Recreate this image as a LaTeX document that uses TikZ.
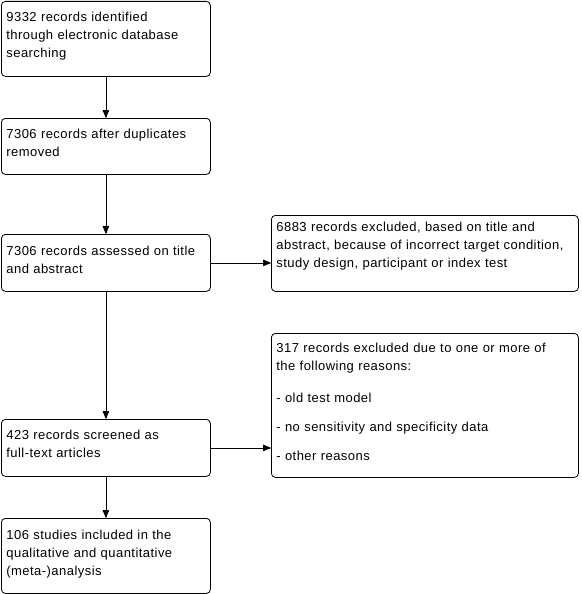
\documentclass[tikz,border=0pt]{standalone}
\usepackage{fontspec}
\setmainfont{Liberation Sans}[LetterSpace=3.5]
\usepackage{tikz}
\usetikzlibrary{arrows}

% empty space below the last line, so the text sits high in its box
\newcommand{\gapbelow}[1]{\par\nointerlineskip\vspace{#1}\hbox{}}

\begin{document}
\begin{tikzpicture}[line cap=round,line join=round,>=triangle 45,x=1pt,y=-1pt,
  box/.style={draw,line width=0.8pt,rounded corners=4pt,anchor=north west,
    align=left,inner xsep=5pt,inner ysep=0pt,font=\fontsize{13}{18}\selectfont},
  flow/.style={->,line width=0.8pt}]

\useasboundingbox (0.,0.) rectangle (581.,594.);

\node[box,text width=199pt,minimum height=75pt] (ident) at (1.,1.)
  {9332 records identified\\ through electronic database\\ searching\gapbelow{5pt}};
\node[box,text width=199pt,minimum height=56pt] (dedup) at (1.,118.)
  {7306 records after duplicates\\ removed\gapbelow{7pt}};
\node[box,text width=199pt,minimum height=57pt] (title) at (1.,234.)
  {7306 records assessed on title\\ and abstract\gapbelow{6pt}};
\node[box,text width=297pt,minimum height=76pt] (exclA) at (271.,215.)
  {6883 records excluded, based on title and\\ abstract, because of incorrect target condition,\\ study design, participant or index test\gapbelow{14pt}};
\node[box,text width=199pt,minimum height=57pt] (full) at (1.,419.)
  {423 records screened as\\ full-text articles\gapbelow{8pt}};
\node[box,text width=297pt,minimum height=144pt] (exclB) at (271.,333.)
  {317 records excluded due to one or more of\\ the following reasons:\\[14pt]
   - old test model\\[11pt] - no sensitivity and specificity data\\[11pt] - other reasons\gapbelow{8pt}};
\node[box,text width=199pt,minimum height=75pt] (incl) at (1.,518.)
  {106 studies included in the\\ qualitative and quantitative\\ (meta-)analysis\gapbelow{3pt}};

\draw [flow] (ident.south)-- (dedup.north);
\draw [flow] (dedup.south)-- (title.north);
\draw [flow] (title.south)-- (full.north);
\draw [flow] (full.south)-- (incl.north);
\draw [flow] (title.east)-- (title.east -| exclA.west);
\draw [flow] (full.east)-- (full.east -| exclB.west);
\end{tikzpicture}
\end{document}
